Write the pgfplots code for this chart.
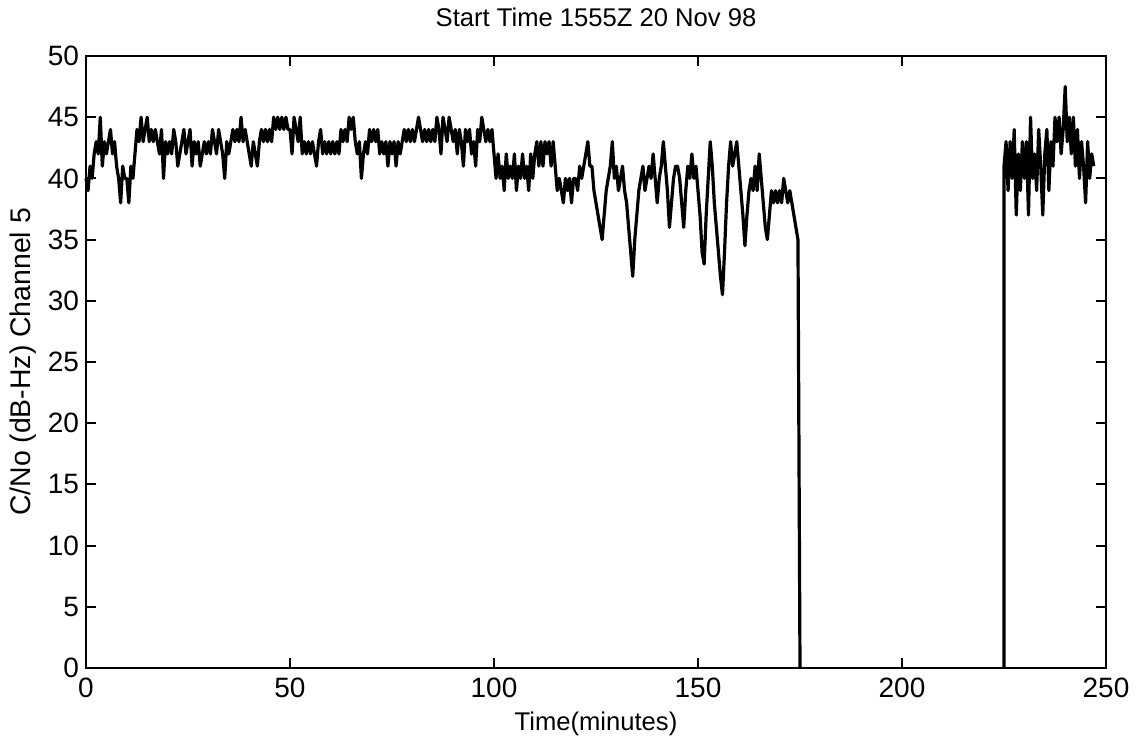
\documentclass[border=0pt]{standalone}
\usepackage{fontspec}
\setmainfont{Liberation Sans}
\usepackage{pgfplots}
\pgfplotsset{compat=1.18}
\begin{document}
\begin{tikzpicture}
\path[use as bounding box] (-43pt,-37.5pt) rectangle (526.5pt,334pt);
\begin{axis}[
  at={(0pt,0pt)}, anchor=south west,
  scale only axis, width=510pt, height=306pt,
  xmin=0, xmax=250, ymin=0, ymax=50,
  xtick={0,50,...,250}, ytick={0,5,...,50},
  tick align=inside, major tick length=5pt,
  axis line style={line width=1.1pt},
  every tick/.style={black, line width=1pt},
  tick label style={font=\fontsize{14}{14}\selectfont},
  xticklabel style={yshift=-1.5pt},
  /pgf/number format/assume math mode=true,
  title={Start Time 1555Z 20 Nov 98},
  title style={font=\fontsize{12.8}{13}\selectfont, yshift=5pt},
  xlabel={Time(minutes)},
  ylabel={C/No (dB-Hz) Channel 5},
  xlabel style={font=\fontsize{12.8}{13}\selectfont, yshift=0pt},
  ylabel style={font=\fontsize{14.2}{15}\selectfont, yshift=-1pt},
  clip=false,
]
\addplot[black, line width=1.6pt, line join=round] coordinates {
(0,40)(0.5,39)(1,41)(1.5,40)(2,42)(2.5,43)(3,42)(3.5,45)(4,41)(4.5,43)
(5,42)(5.5,43)(6,44)(6.5,42)(7,43)(7.5,41)(8,40)(8.5,38)(9,41)(9.5,40)
(10,40)(10.5,38)(11,41)(11.5,40)(12,42)(12.5,44)(13,43)(13.5,45)(14,43)(14.5,44)
(15,45)(15.5,43)(16,44)(16.5,43)(17,44)(17.5,43)(18,42)(18.5,44)(19,40)(19.5,43)
(20,42)(20.5,43)(21,42)(21.5,44)(22,43)(22.5,41)(23,42)(23.5,43)(24,44)(24.5,42)
(25,43)(25.5,44)(26,41)(26.5,43)(27,42)(27.5,43)(28,41)(28.5,42)(29,43)(29.5,42)
(30,43)(30.5,42)(31,44)(31.5,43)(32,42)(32.5,44)(33,43)(33.5,42)(34,40)(34.5,43)
(35,42)(35.5,43)(36,44)(36.5,43)(37,44)(37.5,43)(38,45)(38.5,43)(39,44)(39.5,43)
(40,42)(40.5,41)(41,43)(41.5,42)(42,41)(42.5,43)(43,44)(43.5,43)(44,44)(44.5,43)
(45,44)(45.5,43)(46,45)(46.5,44)(47,45)(47.5,44)(48,45)(48.5,44)(49,45)(49.5,44)
(50,44)(50.5,42)(51,45)(51.5,44)(52,43)(52.5,45)(53,42)(53.5,43)(54,42)(54.5,43)
(55,42)(55.5,43)(56,42)(56.5,41)(57,43)(57.5,44)(58,42)(58.5,43)(59,42)(59.5,43)
(60,42)(60.5,43)(61,42)(61.5,43)(62,42)(62.5,44)(63,43)(63.5,44)(64,43)(64.5,45)
(65,44)(65.5,45)(66,43)(66.5,42)(67,43)(67.5,40)(68,42)(68.5,43)(69,42)(69.5,44)
(70,43)(70.5,44)(71,43)(71.5,44)(72,42)(72.5,43)(73,42)(73.5,43)(74,41)(74.5,43)
(75,42)(75.5,43)(76,41)(76.5,43)(77,42)(77.5,43)(78,44)(78.5,43)(79,44)(79.5,43)
(80,44)(80.5,43)(81,44)(81.5,45)(82,44)(82.5,43)(83,44)(83.5,43)(84,44)(84.5,43)
(85,44)(85.5,43)(86,45)(86.5,44)(87,42)(87.5,45)(88,44)(88.5,43)(89,45)(89.5,44)
(90,43)(90.5,44)(91,42)(91.5,44)(92,43)(92.5,41)(93,44)(93.5,43)(94,44)(94.5,42)
(95,43)(95.5,41)(96,44)(96.5,43)(97,45)(97.5,44)(98,43)(98.5,44)(99,43)(99.5,44)
(100,42)(100.5,40)(101,42)(101.5,40)(102,41)(102.5,39)(103,42)(103.5,40)(104,41)(104.5,40)
(105,42)(105.5,39)(106,41)(106.5,40)(107,42)(107.5,40)(108,41)(108.5,39)(109,42)(109.5,40)
(110,42)(110.5,43)(111,41)(111.5,43)(112,41)(112.5,43)(113,42)(113.5,43)(114,41)(114.5,43)
(115,41)(115.5,39)(116,40)(116.5,39)(117,38)(117.5,40)(118,39)(118.5,40)(119,38)(119.5,40)
(120,40)(120.5,39)(121,41)(121.5,40)(122,41)(122.5,42)(123,43)(123.5,41)(124,41)(124.5,39)
(125,38)(125.5,37)(126,36)(126.5,35)(127,37)(127.5,39)(128,40)(128.5,41)(129,43)(129.5,40)
(130,41)(130.5,39)(131,40)(131.5,41)(132,39)(132.5,38)(133,36)(133.5,34)(134,32)(134.5,35)
(135,37)(135.5,39)(136,40)(136.5,41)(137,39)(137.5,40)(138,41)(138.5,40)(139,42)(139.5,40)
(140,38)(140.5,40)(141,41)(141.5,43)(142,41)(142.5,39)(143,36)(143.5,38)(144,40)(144.5,41)
(145,41)(145.5,40)(146,38)(146.5,36)(147,39)(147.5,41)(148,40)(148.5,42)(149,40)(149.5,41)
(150,39)(150.5,37)(151,34)(151.5,33)(152,37)(152.5,40)(153,43)(153.5,41)(154,38)(154.5,36)
(155,34)(155.5,32)(156,30.5)(156.5,34)(157,38)(157.5,41)(158,43)(158.5,41)(159,42)(159.5,43)
(160,41)(160.5,39)(161,37)(161.5,34.5)(162,37)(162.5,39)(163,40)(163.5,39)(164,41)(164.5,39)
(165,42)(165.5,40)(166,38)(166.5,36)(167,35)(167.5,37)(168,39)(168.5,38)(169,39)(169.5,38)
(170,39)(170.5,38)(171,40)(171.5,39)(172,38)(172.5,39)(173,38)(173.5,37)(174,36)(174.5,35)
(175,0)
};
\addplot[black, line width=1.6pt, line join=round] coordinates {
(225,0)(225,41)(225.5,43)(226,39)(226.5,43)(227,40)(227.5,44)(228,37)(228.5,42)(229,39)(229.5,43)
(230,40)(230.5,43)(231,37)(231.5,45)(232,40)(232.5,42)(233,39)(233.5,44)(234,41)(234.5,37)
(235,42)(235.5,44)(236,39)(236.5,43)(237,41)(237.5,45)(238,43)(238.5,45)(239,42)(239.5,44)
(240,47.5)(240.5,43)(241,45)(241.5,42)(242,45)(242.5,41)(243,44)(243.5,40)(244,43)(244.5,41)
(245,38)(245.5,43)(246,40)(246.5,42)(247,41)
};
\end{axis}
\end{tikzpicture}
\end{document}
